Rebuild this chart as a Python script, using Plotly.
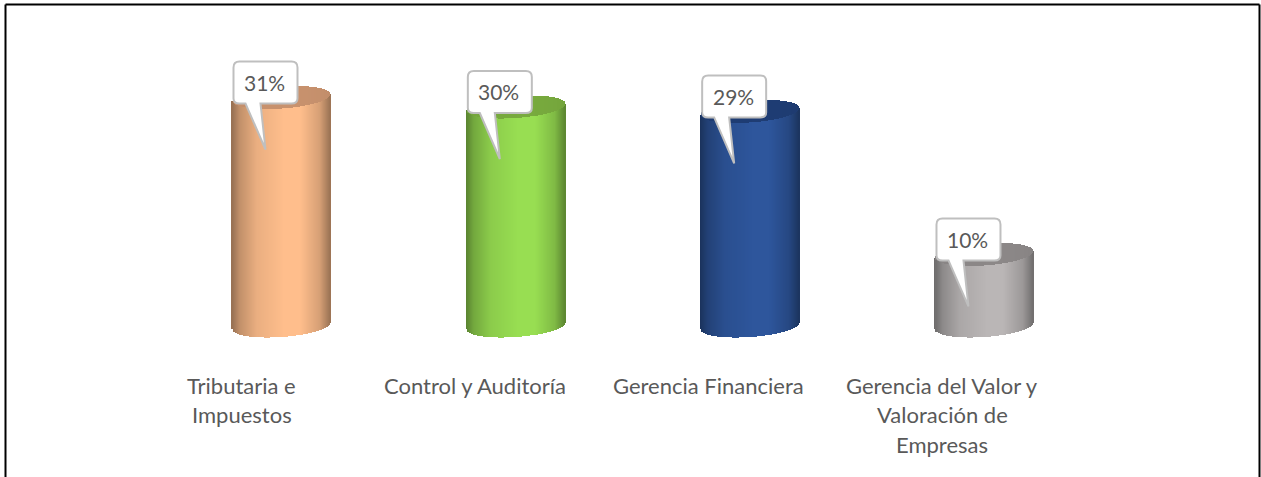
"""Cylinder chart of thesis areas, with callout labels."""

import numpy as np
import plotly.graph_objects as go

# Data
label_lines = [
    ["Tributaria e", "Impuestos"],
    ["Control y Auditoría"],
    ["Gerencia Financiera"],
    ["Gerencia del Valor y", "Valoración de", "Empresas"],
]
values = [31.3, 30.0, 29.4, 9.8]
value_labels = ["31%", "30%", "29%", "10%"]
base_colors = [(255, 190, 140), (152, 222, 82), (46, 86, 156), (186, 182, 182)]
cap_colors = [(200, 146, 110), (120, 170, 62), (31, 61, 116), (140, 136, 136)]

WIDTH, HEIGHT = 1261, 477
PLOT_TOP, PLOT_BOTTOM = 20, 345  # px
ZERO_PX = 326
PX_PER_UNIT = 7.3
X0_PX, X_STEP_PX = 281.5, 234.33
HALF_WIDTH_PX = 49
RY_PX, TILT_PX = 11, 3.4
TEXT_COLOR = "#595959"
FONT = "Lato"

y_range = [(ZERO_PX - PLOT_BOTTOM) / PX_PER_UNIT, (ZERO_PX - PLOT_TOP) / PX_PER_UNIT]
x_range = [-X0_PX / X_STEP_PX, (WIDTH - X0_PX) / X_STEP_PX]

# Position across a cylinder, -1 left edge to 1 right edge
t = np.linspace(-1, 1, 2 * int(HALF_WIDTH_PX))
shade = np.interp(t, [-1, -0.85, -0.5, 0.05, 0.4, 0.8, 1], [0.6, 0.76, 0.92, 1, 1, 0.84, 0.62])
rim = RY_PX / PX_PER_UNIT * np.sqrt(1 - t**2)
tilt = TILT_PX / PX_PER_UNIT * t
strip_dx = t * HALF_WIDTH_PX / X_STEP_PX
strip_w = 1 / X_STEP_PX * 1.02


def rgb_list(color, factor):
    return [f"rgb({int(color[0]*f)},{int(color[1]*f)},{int(color[2]*f)})" for f in factor]


fig = go.Figure()

for i, value in enumerate(values):
    # body
    fig.add_trace(go.Bar(
        x=i + strip_dx,
        y=np.full_like(t, value),
        base=tilt - rim,
        width=strip_w,
        marker=dict(color=rgb_list(base_colors[i], shade), line=dict(width=0)),
        hoverinfo="skip",
        showlegend=False,
    ))
    # top cap
    fig.add_trace(go.Bar(
        x=i + strip_dx,
        y=2 * rim,
        base=value + tilt - rim,
        width=strip_w,
        marker=dict(color=rgb_list(cap_colors[i], 0.92 + 0.08 * shade), line=dict(width=0)),
        hoverinfo="skip",
        showlegend=False,
    ))

# Callout outline in px from the centre of the cylinder top
callout_path = (
    "M -42,36 Q -48,36 -48,30 L -48,-1 Q -48,-6 -42,-6 "
    "L -36,-6 L -16,-52 L -21,-6 L 10,-6 Q 16,-6 16,-1 "
    "L 16,30 Q 16,36 10,36 Z"
)

shapes = []
annotations = []
for i, value in enumerate(values):
    shapes.append(dict(
        type="path", xref="x", yref="y", xsizemode="pixel", ysizemode="pixel",
        xanchor=i, yanchor=value, path=callout_path,
        fillcolor="white", line=dict(color="#bfbfbf", width=2),
    ))
    annotations.append(dict(
        x=i, y=value, xref="x", yref="y", text=value_labels[i], showarrow=False,
        xshift=-17, yshift=15, font=dict(family=FONT, size=21, color=TEXT_COLOR),
    ))
    for j, line in enumerate(label_lines[i]):
        annotations.append(dict(
            x=i, y=0, xref="x", yref="y", text=line, showarrow=False,
            xshift=-40 - 0.7 * i, yshift=ZERO_PX - (385 + 29.5 * j),
            font=dict(family=FONT, size=22, color=TEXT_COLOR),
        ))

# Frame: left, top and right only
frame = dict(color="black", width=2)
for x0, y0, x1, y1 in [(5.5, 0, 5.5, 472.5), (5.5, 472.5, 1259.5, 472.5), (1259.5, 472.5, 1259.5, 0)]:
    shapes.append(dict(
        type="line", xref="paper", yref="paper", line=frame,
        x0=x0 / WIDTH, x1=x1 / WIDTH, y0=y0 / HEIGHT, y1=y1 / HEIGHT,
    ))

fig.update_layout(
    width=WIDTH,
    height=HEIGHT,
    margin=dict(l=0, r=0, t=0, b=0),
    paper_bgcolor="white",
    plot_bgcolor="white",
    barmode="overlay",
    bargap=0,
    shapes=shapes,
    annotations=annotations,
    font=dict(family=FONT),
)
fig.update_xaxes(range=x_range, visible=False, domain=[0, 1])
fig.update_yaxes(
    range=y_range, visible=False,
    domain=[(HEIGHT - PLOT_BOTTOM) / HEIGHT, (HEIGHT - PLOT_TOP) / HEIGHT],
)

fig.write_html(
    "out.html",
    config={"displayModeBar": False},
    post_script="document.body.style.margin='0';",
)
